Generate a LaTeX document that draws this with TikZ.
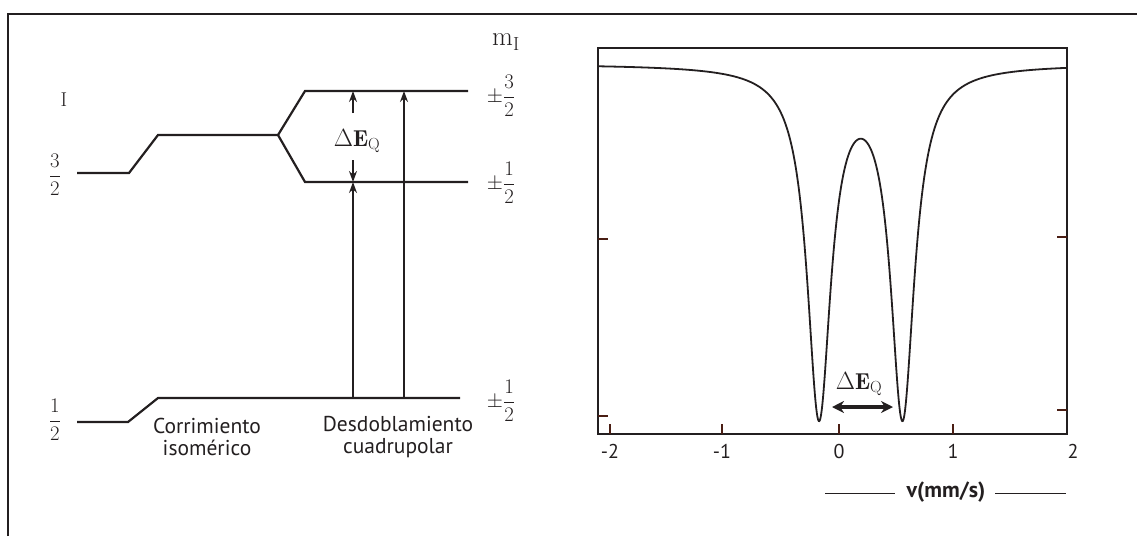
\documentclass[tikz,border=0pt]{standalone}
\usepackage{fontspec}
\setsansfont{PT Sans}
\usetikzlibrary{arrows.meta}
\definecolor{ink}{HTML}{231F20}
\definecolor{tickred}{HTML}{4A1E14}
\begin{document}
\begin{tikzpicture}[x=1pt,y=-1pt,
  level/.style={line width=2.2pt, draw=ink, line join=miter},
  uparr/.style={line width=1.4pt, draw=ink, -{Stealth[length=11pt,width=8pt]}},
  frame/.style={line width=1.6pt, draw=ink},
  tick/.style={line width=1.6pt, draw=tickred},
  curve/.style={line width=1.8pt, draw=ink},
  serif/.style={font=\fontsize{20}{22}\selectfont, text=ink, inner sep=0pt},
  sans/.style={font=\sffamily\fontsize{21.5}{22}\selectfont, text=ink, align=center, inner sep=0pt},
  ticklbl/.style={font=\sffamily\fontsize{20}{22}\selectfont, text=ink, inner sep=0pt},
  thin/.style={line width=0.8pt, draw=ink}]
\useasboundingbox (0,0) rectangle (1137,536);
% outer frame
\draw[line width=2.2pt, draw=ink] (8,536) -- (8,14) -- (1137,14);

% ---------- energy levels ----------
\coordinate (a0) at (77,173);
\coordinate (a1) at (129,173);
\coordinate (a2) at (158,135);
\coordinate (a3) at (278,135);
\coordinate (u0) at (305,91);
\coordinate (u1) at (468,91);
\coordinate (l0) at (305,182);
\coordinate (l1) at (468,182);
\coordinate (b0) at (77,422);
\coordinate (b1) at (128,422);
\coordinate (b2) at (158,398);
\coordinate (b3) at (460,398);

\draw[level] (a0) -- (a1) -- (a2) -- (a3) -- (u0) -- (u1);
\draw[level] (a3) -- (l0) -- (l1);
\draw[level] (b0) -- (b1) -- (b2) -- (b3);

% transitions
\coordinate (g1) at (353,398);
\coordinate (t1) at (353,182);
\coordinate (g2) at (404,398);
\coordinate (t2) at (404,91);
\draw[uparr] (g1) -- (t1);
\draw[uparr] (g2) -- (t2);

% Delta E_Q arrows
\coordinate (q1s) at (353,113);
\coordinate (q1e) at (353,91);
\coordinate (q2s) at (353,160);
\coordinate (q2e) at (353,182);
\draw[uparr] (q1s) -- (q1e);
\draw[uparr] (q2s) -- (q2e);
\node[serif, font=\fontsize{23}{24}\selectfont] (dEq) at (357,141) {$\Delta\mathbf{E}_{\mathrm{Q}}$};

% labels
\node[serif] (I) at (64,100) {I};
\node[serif, font=\fontsize{27}{28}\selectfont] (mI) at (506,42) {$\mathrm{m}_{\mathrm{I}}$};
\node[serif] (f32) at (55,175) {$\displaystyle\frac{3}{2}$};
\node[serif] (f12) at (55,420) {$\displaystyle\frac{1}{2}$};
\node[serif] (r32) at (501,96) {$\displaystyle\pm\frac{3}{2}$};
\node[serif] (r12a) at (501,183) {$\displaystyle\pm\frac{1}{2}$};
\node[serif] (r12b) at (501,401) {$\displaystyle\pm\frac{1}{2}$};
\node[sans] (corr) at (207,437) {Corrimiento\\isomérico};
\node[sans] (desd) at (398,437) {Desdoblamiento\\cuadrupolar};

% ---------- spectrum ----------
\draw[frame] (598,48) rectangle (1067,434);
\foreach \tx in {610,722,839,953} \draw[tick] (\tx,434) -- (\tx,424);
\draw[tick] (598,239) -- (608,239);
\draw[tick] (598,416) -- (608,416);
\draw[tick] (1067,237) -- (1057,237);
\draw[tick] (1067,410) -- (1057,410);
\node[ticklbl] (xm2) at (610,451) {-2};
\node[ticklbl] (xm1) at (722,451) {-1};
\node[ticklbl] (x0) at (839,451) {0};
\node[ticklbl] (x1) at (953,451) {1};
\node[ticklbl] (x2) at (1073,451) {2};

\draw[curve] plot[domain=598.8:1066.2, samples=936, variable=\x]
  (\x, {64+347/(1+((\x-819)/14.5)^2)+347/(1+((\x-902.5)/14.5)^2)});

\node[ticklbl, font=\sffamily\bfseries\fontsize{22}{24}\selectfont] (vlab) at (946,492) {v(mm/s)};
\coordinate (v1a) at (825,493);
\coordinate (v2b) at (1066,493);
\draw[thin] (v1a) -- ([xshift=-12pt]vlab.west |- v1a);
\draw[thin] ([xshift=10pt]vlab.east |- v2b) -- (v2b);

\node[serif, font=\fontsize{23}{24}\selectfont] (dEq2) at (859,384) {$\Delta\mathbf{E}_{\mathrm{Q}}$};
\coordinate (da) at (832,407);
\coordinate (db) at (893,407);
\draw[line width=3.6pt, draw=ink, {Stealth[length=12pt,width=12pt]}-{Stealth[length=12pt,width=12pt]}] (da) -- (db);
\end{tikzpicture}
\end{document}
